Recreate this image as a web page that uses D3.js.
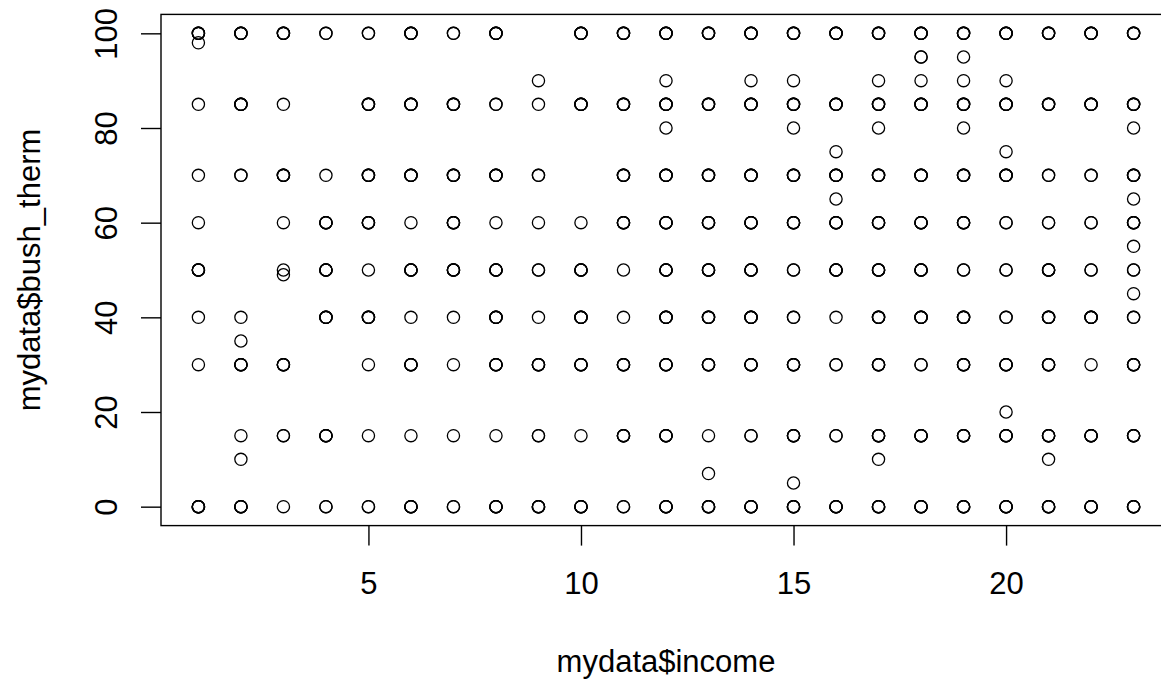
<!DOCTYPE html>
<html>
<head>
<meta charset="utf-8">
<script src="https://cdn.jsdelivr.net/npm/d3@7/dist/d3.min.js"></script>
<style>
  body { margin: 0; background: #fff; }
  svg { display: block; }
  text { font-family: "Liberation Sans", Arial, Helvetica, sans-serif; fill: #000; }
</style>
</head>
<body>
<svg id="chart" width="1161" height="679"></svg>
<script>
// Feeling-thermometer scores for Bush by income bracket.
// Each entry: [bush_therm score, number of respondents at that score].
const income1  = [[100,4],[98,1],[85,1],[70,1],[60,1],[50,4],[40,1],[30,1],[0,5]];
const income2  = [[100,4],[85,4],[70,2],[40,1],[35,1],[30,4],[15,1],[10,1],[0,4]];
const income3  = [[100,4],[85,1],[70,4],[60,1],[50,1],[49,1],[30,4],[15,2],[0,1]];
const income4  = [[100,2],[70,1],[60,4],[50,4],[40,4],[15,4],[0,2]];
const income5  = [[100,2],[85,4],[70,4],[60,4],[50,1],[40,4],[30,1],[15,1],[0,2]];
const income6  = [[100,4],[85,4],[70,4],[60,1],[50,4],[40,1],[30,4],[15,1],[0,4]];
const income7  = [[100,2],[85,4],[70,4],[60,4],[50,4],[40,1],[30,1],[15,1],[0,2]];
const income8  = [[100,4],[85,2],[70,4],[60,1],[50,4],[40,4],[30,4],[15,1],[0,4]];
const income9  = [[90,1],[85,1],[70,2],[60,1],[50,2],[40,1],[30,4],[15,2],[0,4]];
const income10 = [[100,4],[85,4],[60,1],[50,4],[40,4],[30,4],[15,1],[0,4]];
const income11 = [[100,4],[85,4],[70,4],[60,4],[50,1],[40,1],[30,4],[15,4],[0,2]];
const income12 = [[100,4],[90,1],[85,4],[80,1],[70,4],[60,4],[50,4],[40,4],[30,4],[15,4],[0,4]];
const income13 = [[100,4],[85,4],[70,4],[60,4],[50,4],[40,4],[30,4],[15,1],[7,1],[0,4]];
const income14 = [[100,4],[90,1],[85,4],[70,4],[60,4],[50,4],[40,4],[30,4],[15,2],[0,4]];
const income15 = [[100,4],[90,1],[85,4],[80,1],[70,4],[60,4],[50,2],[40,2],[30,4],[15,4],[5,1],[0,4]];
const income16 = [[100,4],[85,4],[75,1],[70,4],[65,1],[60,4],[50,4],[40,1],[30,2],[15,2],[0,4]];
const income17 = [[100,4],[90,1],[85,4],[80,1],[70,4],[60,4],[50,4],[40,4],[30,4],[15,4],[10,1],[0,4]];
const income18 = [[100,4],[95,2],[90,1],[85,4],[70,4],[60,4],[50,4],[40,4],[30,2],[15,4],[0,4]];
const income19 = [[100,4],[95,1],[90,1],[85,4],[80,1],[70,4],[60,4],[50,2],[40,4],[30,4],[15,4],[0,4]];
const income20 = [[100,4],[90,1],[85,4],[75,1],[70,4],[60,2],[50,2],[40,2],[30,4],[20,1],[15,4],[0,4]];
const income21 = [[100,4],[85,4],[70,2],[60,2],[50,4],[40,4],[30,4],[15,4],[10,1],[0,4]];
const income22 = [[100,4],[85,4],[70,2],[60,2],[50,2],[40,4],[30,1],[15,4],[0,4]];
const income23 = [[100,4],[85,4],[80,1],[70,4],[65,1],[60,4],[55,1],[50,2],[45,1],[40,2],[30,4],[15,4],[0,4]];

const incomeLevels = [1,2,3,4,5,6,7,8,9,10,11,12,13,14,15,16,17,18,19,20,21,22,23];
const thermByIncome = [income1, income2, income3, income4, income5, income6, income7, income8,
  income9, income10, income11, income12, income13, income14, income15, income16, income17,
  income18, income19, income20, income21, income22, income23];

const xTicks = [5, 10, 15, 20];
const yTicks = [0, 20, 40, 60, 80, 100];
const xLabel = "mydata$income";
const yLabel = "mydata$bush_therm";

// Expand into one record per respondent
const points = [];
incomeLevels.forEach((inc, i) => {
  thermByIncome[i].forEach(([score, n]) => {
    for (let k = 0; k < n; k++) points.push({ income: inc, therm: score });
  });
});

// Plot region (axes padded 4% beyond the data range on each side)
const plot = { left: 161, right: 1171, top: 14.4, bottom: 525.6 };
const xMin = 1, xMax = 23, yMin = 0, yMax = 100;
const xPad = (xMax - xMin) * 0.04, yPad = (yMax - yMin) * 0.04;

const x = d3.scaleLinear().domain([xMin - xPad, xMax + xPad]).range([plot.left, plot.right]);
const y = d3.scaleLinear().domain([yMin - yPad, yMax + yPad]).range([plot.bottom, plot.top]);

const svg = d3.select("#chart");
svg.append("rect").attr("width", 1161).attr("height", 679).attr("fill", "#fff");

const fontSize = 31;

// Points: open circles
svg.append("g")
  .selectAll("circle")
  .data(points)
  .join("circle")
  .attr("cx", d => x(d.income))
  .attr("cy", d => y(d.therm))
  .attr("r", 6.1)
  .attr("fill", "none")
  .attr("stroke", "#000")
  .attr("stroke-width", 1.3);

// Frame around plot region
svg.append("rect")
  .attr("x", plot.left).attr("y", plot.top)
  .attr("width", plot.right - plot.left).attr("height", plot.bottom - plot.top)
  .attr("fill", "none").attr("stroke", "#000").attr("stroke-width", 1.4);

// X axis
const gx = svg.append("g")
  .attr("transform", `translate(0,${plot.bottom})`)
  .call(d3.axisBottom(x).tickValues(xTicks).tickSize(20).tickPadding(26).tickFormat(d3.format("d")));
gx.select(".domain").remove();
gx.selectAll(".tick line").attr("stroke", "#000").attr("stroke-width", 1.4);
gx.selectAll(".tick text").attr("font-size", fontSize).attr("font-family", null).attr("fill", "#000");

// Y axis (labels parallel to the axis)
const gy = svg.append("g")
  .attr("transform", `translate(${plot.left},0)`)
  .call(d3.axisLeft(y).tickValues(yTicks).tickSize(20).tickFormat(d3.format("d")));
gy.select(".domain").remove();
gy.selectAll(".tick line").attr("stroke", "#000").attr("stroke-width", 1.4);
gy.selectAll(".tick text")
  .attr("font-size", fontSize).attr("font-family", null).attr("fill", "#000")
  .attr("x", null).attr("dy", null)
  .attr("text-anchor", "middle")
  .attr("transform", "translate(-44,0) rotate(-90)");

// Axis titles
svg.append("text")
  .attr("x", (plot.left + plot.right) / 2).attr("y", 672)
  .attr("text-anchor", "middle").attr("font-size", fontSize)
  .text(xLabel);

svg.append("text")
  .attr("transform", `translate(40,${(plot.top + plot.bottom) / 2}) rotate(-90)`)
  .attr("text-anchor", "middle").attr("font-size", fontSize)
  .text(yLabel);
</script>
</body>
</html>
